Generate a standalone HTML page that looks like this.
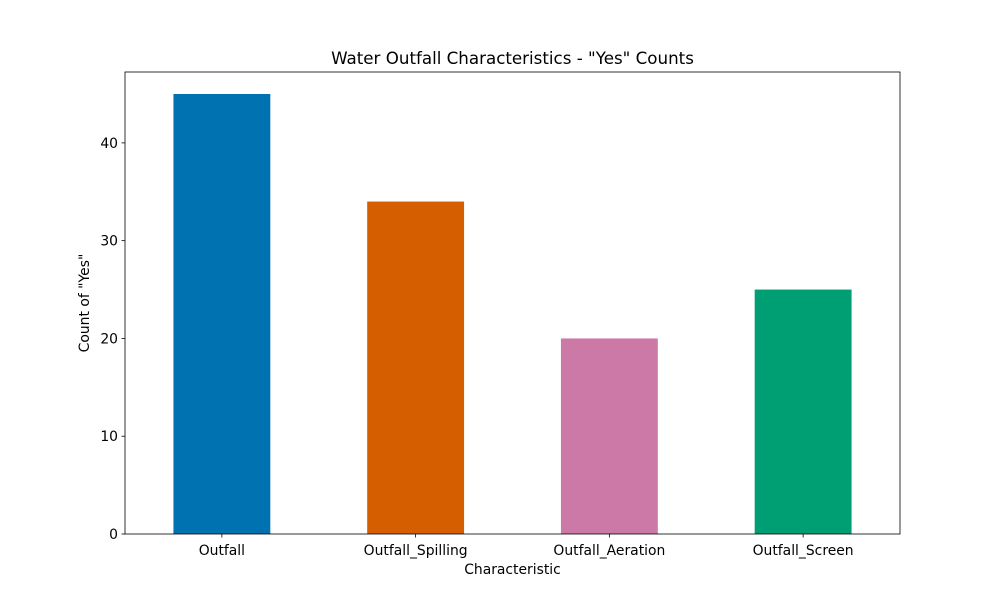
<!DOCTYPE html>
<html><head><meta charset="utf-8"><style>
html,body{margin:0;padding:0;background:#fff;}
svg text{font-family:"DejaVu Sans","Liberation Sans",sans-serif;fill:#000;}
</style></head><body>
<svg id="chart" width="1000" height="600" xmlns="http://www.w3.org/2000/svg">
<rect width="1000" height="600" fill="#fff"/>
</svg>
<script>
const categories = ["Outfall","Outfall_Spilling","Outfall_Aeration","Outfall_Screen"];
const values = [45,34,20,25];
const colors = ["#0072b2","#d55e00","#cc79a7","#009e73"];
const yTicks = [0,10,20,30,40];

const L=125,R=900,T=72,B=534,yMax=47.25;
const ns="http://www.w3.org/2000/svg";
const svg=document.getElementById('chart');
const xs=i=>L+(i+0.5)*(R-L)/categories.length;
const ys=v=>B-v/yMax*(B-T);
const bw=0.5*(R-L)/categories.length;
function mk(tag,attrs,txt){const e=document.createElementNS(ns,tag);for(const k in attrs)e.setAttribute(k,attrs[k]);if(txt!==undefined)e.textContent=txt;svg.appendChild(e);return e;}

categories.forEach((c,i)=>{
  const r=mk('rect',{x:xs(i)-bw/2,y:ys(values[i]),width:bw,height:B-ys(values[i]),fill:colors[i%colors.length]});
  
  
  const t=mk('line',{x1:xs(i),x2:xs(i),y1:B,y2:B+3.5,stroke:'#000','stroke-width':0.8});
  
  
  const lb=mk('text',{x:xs(i),y:B+21,'text-anchor':'middle','font-size':13.9},c);
  
  
});
yTicks.forEach(v=>{
  const t=mk('line',{x1:L-3.5,x2:L,y1:ys(v),y2:ys(v),stroke:'#000','stroke-width':0.8});
  
  
  const lb=mk('text',{x:L-7,y:ys(v)+5,'text-anchor':'end','font-size':13.9},String(v));
  
  
});
const f=mk('rect',{x:L,y:T,width:R-L,height:B-T,fill:'none',stroke:'#000','stroke-width':0.8});


const ti=mk('text',{x:(L+R)/2,y:64,'text-anchor':'middle','font-size':16.7},'Water Outfall Characteristics - "Yes" Counts');


const xt=mk('text',{x:(L+R)/2,y:574,'text-anchor':'middle','font-size':13.9},'Characteristic');


const yt=mk('text',{x:0,y:0,'text-anchor':'middle','font-size':13.9,transform:'translate(89,303) rotate(-90)'},'Count of "Yes"');


</script>
</body></html>
